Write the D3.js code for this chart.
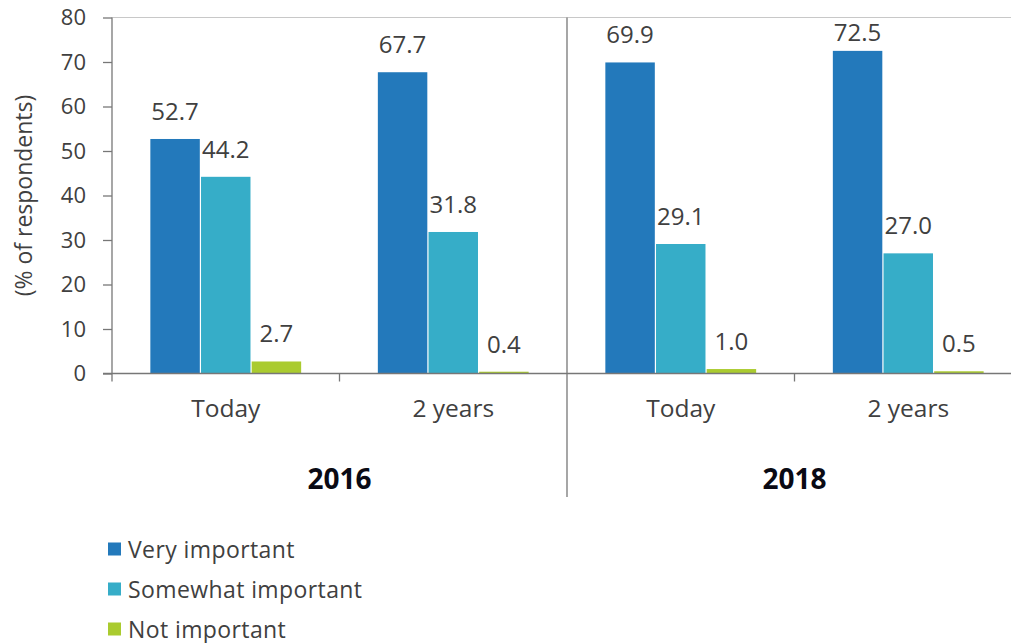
<!DOCTYPE html>
<html>
<head>
<meta charset="utf-8">
<script src="https://cdn.jsdelivr.net/npm/d3@7"></script>
<style>
  html, body { margin: 0; padding: 0; background: #fff; }
  svg { display: block; font-family: "Open Sans", "Noto Sans", sans-serif; }
</style>
</head>
<body>
<svg id="chart" width="1011" height="643"></svg>
<script>
// Survey periods and the time horizon asked about in each
const years = ["2016", "2018"];
const horizons = ["Today", "2 years"];
const seriesNames = ["Very important", "Somewhat important", "Not important"];
const seriesColors = ["#2379bb", "#36adc8", "#aacb2f"];

// Share of respondents (%) per series, in order: 2016 Today, 2016 2 years, 2018 Today, 2018 2 years
const veryImportant     = [52.7, 67.7, 69.9, 72.5];
const somewhatImportant = [44.2, 31.8, 29.1, 27.0];
const notImportant      = [2.7, 0.4, 1.0, 0.5];

const yTicks = [0, 10, 20, 30, 40, 50, 60, 70, 80];

const series = [veryImportant, somewhatImportant, notImportant];
const categories = [];
years.forEach(y => horizons.forEach(h => categories.push({ key: y + "|" + h, year: y, horizon: h })));

const svg = d3.select("#chart");
const plotLeft = 112, plotRight = 1022, plotTop = 17.5, plotBottom = 373.5;
const axisColor = "#777";
const textColor = "#404040";

const x = d3.scaleBand().domain(categories.map(c => c.key)).range([plotLeft, plotRight]);
const xYear = d3.scaleBand().domain(years).range([plotLeft, plotRight]);
const xInner = d3.scaleBand().domain(d3.range(series.length)).range([0, x.bandwidth()])
  .paddingInner(0).paddingOuter(0.745);
const y = d3.scaleLinear().domain([0, 80]).range([plotBottom, plotTop]);

// top border line
svg.append("line")
  .attr("x1", plotLeft).attr("x2", 1011)
  .attr("y1", y(80)).attr("y2", y(80))
  .attr("stroke", "#c8c8c8").attr("stroke-width", 1.2);

// bars with value labels
categories.forEach((c, ci) => {
  const g = svg.append("g").attr("transform", `translate(${x(c.key)},0)`);
  series.forEach((vals, si) => {
    const v = vals[ci];
    g.append("rect")
      .attr("x", xInner(si) + 0.6)
      .attr("width", xInner.bandwidth() - 1.2)
      .attr("y", y(v))
      .attr("height", y(0) - y(v))
      .attr("fill", seriesColors[si]);
    const base = Math.max(y(v) - 19, plotTop + 23);
    g.append("text")
      .attr("x", xInner(si) + xInner.bandwidth() / 2)
      .attr("y", base)
      .attr("text-anchor", "middle")
      .attr("font-size", 24)
      .attr("fill", textColor)
      .text(v.toFixed(1));
  });
});

// y axis
const yAxis = d3.axisLeft(y).tickValues(yTicks).tickSize(9).tickPadding(17);
const ya = svg.append("g").attr("transform", `translate(${plotLeft},0)`).call(yAxis);
ya.select(".domain").attr("stroke", axisColor).attr("stroke-width", 1.3).attr("d", `M0,${plotTop}V${plotBottom + 8}`);
ya.selectAll(".tick line").attr("stroke", axisColor).attr("stroke-width", 1.3);
ya.selectAll(".tick text").attr("font-size", 22).attr("fill", textColor)
  .attr("font-family", "'Open Sans', sans-serif");

// x baseline
svg.append("line")
  .attr("x1", plotLeft - 9).attr("x2", 1011)
  .attr("y1", y(0)).attr("y2", y(0))
  .attr("stroke", axisColor).attr("stroke-width", 1.3);

// category boundary ticks, full-height divider between years
categories.forEach((c, ci) => {
  if (ci === 0) return;
  const bx = x(c.key);
  const isYearEdge = c.horizon === horizons[0];
  svg.append("line")
    .attr("x1", bx).attr("x2", bx)
    .attr("y1", isYearEdge ? plotTop : plotBottom)
    .attr("y2", isYearEdge ? 497 : plotBottom + 8)
    .attr("stroke", axisColor).attr("stroke-width", 1.3);
});

// horizon labels
categories.forEach(c => {
  svg.append("text")
    .attr("x", x(c.key) + x.bandwidth() / 2)
    .attr("y", 417)
    .attr("text-anchor", "middle")
    .attr("font-size", 24.5)
    .attr("fill", textColor)
    .text(c.horizon);
});

// year labels
years.forEach(yr => {
  svg.append("text")
    .attr("x", xYear(yr) + xYear.bandwidth() / 2)
    .attr("y", 489)
    .attr("text-anchor", "middle")
    .attr("font-size", 28)
    .attr("font-weight", "bold")
    .attr("fill", "#0a0a14")
    .text(yr);
});

// y axis title
svg.append("text")
  .attr("transform", `translate(32,${(plotTop + plotBottom) / 2}) rotate(-90)`)
  .attr("text-anchor", "middle")
  .attr("font-size", 23)
  .attr("fill", textColor)
  .text("(% of respondents)");

// legend
const legend = svg.append("g");
seriesNames.forEach((name, i) => {
  const cy = 549 + i * 40;
  legend.append("rect")
    .attr("x", 108).attr("y", cy - 6.5)
    .attr("width", 13).attr("height", 13)
    .attr("fill", seriesColors[i]);
  legend.append("text")
    .attr("x", 128).attr("y", cy + 8.5)
    .attr("font-size", 23)
    .attr("letter-spacing", 0.4)
    .attr("fill", textColor)
    .text(name);
});
</script>
</body>
</html>
